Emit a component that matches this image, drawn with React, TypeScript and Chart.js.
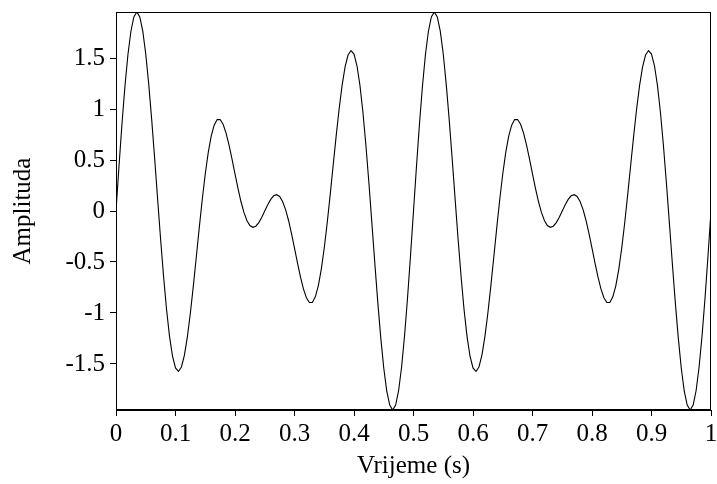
import React, { useEffect, useRef } from "react";
import { Chart, registerables } from "chart.js";

Chart.register(...registerables);

// sample interval of the waveform (seconds)
const sampleStep = 0.005;

// amplitude samples, t = 0 .. 1 s
const amplitude = [
  0, 0.436, 0.85, 1.22, 1.529, 1.76, 1.903, 1.951, 1.903, 1.763, 1.539, 1.244, 0.896, 0.512, 0.114, -0.279, -0.645, -0.968, -1.231, -1.424,
  -1.539, -1.573, -1.529, -1.412, -1.231, -1.0, -0.734, -0.448, -0.16, 0.115, 0.363, 0.572, 0.734, 0.842, 0.896, 0.897, 0.85, 0.763, 0.645, 0.508,
  0.363, 0.222, 0.093, -0.014, -0.093, -0.142, -0.16, -0.149, -0.114, -0.061, 0, 0.061, 0.114, 0.149, 0.16, 0.142, 0.093, 0.014, -0.093, -0.222,
  -0.363, -0.508, -0.645, -0.763, -0.85, -0.897, -0.896, -0.842, -0.734, -0.572, -0.363, -0.115, 0.16, 0.448, 0.734, 1.0, 1.231, 1.412, 1.529, 1.573,
  1.539, 1.424, 1.231, 0.968, 0.645, 0.279, -0.114, -0.512, -0.896, -1.244, -1.539, -1.763, -1.903, -1.951, -1.903, -1.76, -1.529, -1.22, -0.85, -0.436,
  0, 0.436, 0.85, 1.22, 1.529, 1.76, 1.903, 1.951, 1.903, 1.763, 1.539, 1.244, 0.896, 0.512, 0.114, -0.279, -0.645, -0.968, -1.231, -1.424,
  -1.539, -1.573, -1.529, -1.412, -1.231, -1.0, -0.734, -0.448, -0.16, 0.115, 0.363, 0.572, 0.734, 0.842, 0.896, 0.897, 0.85, 0.763, 0.645, 0.508,
  0.363, 0.222, 0.093, -0.014, -0.093, -0.142, -0.16, -0.149, -0.114, -0.061, 0, 0.061, 0.114, 0.149, 0.16, 0.142, 0.093, 0.014, -0.093, -0.222,
  -0.363, -0.508, -0.645, -0.763, -0.85, -0.897, -0.896, -0.842, -0.734, -0.572, -0.363, -0.115, 0.16, 0.448, 0.734, 1.0, 1.231, 1.412, 1.529, 1.573,
  1.539, 1.424, 1.231, 0.968, 0.645, 0.279, -0.114, -0.512, -0.896, -1.244, -1.539, -1.763, -1.903, -1.951, -1.903, -1.76, -1.529, -1.22, -0.85, -0.436,
  0,
];

const xTickValues = [0, 0.1, 0.2, 0.3, 0.4, 0.5, 0.6, 0.7, 0.8, 0.9, 1];
const xTickLabels = ["0", "0.1", "0.2", "0.3", "0.4", "0.5", "0.6", "0.7", "0.8", "0.9", "1"];
const yTickValues = [-1.5, -1, -0.5, 0, 0.5, 1, 1.5];
const yTickLabels = ["-1.5", "-1", "-0.5", "0", "0.5", "1", "1.5"];

const xMin = 0;
const xMax = 1;
const yMin = -1.951;
const yMax = 1.951;

const xTitle = "Vrijeme (s)";
const yTitle = "Amplituda";

const FONT_FAMILY = '"Liberation Serif", "Times New Roman", serif';

const boxPlugin = {
  id: "frameBox",
  afterDraw(chart: any) {
    const { ctx, chartArea } = chart;
    const l = Math.round(chartArea.left) + 0.5;
    const t = Math.round(chartArea.top) + 0.5;
    const r = Math.round(chartArea.right) - 0.5;
    const b = Math.round(chartArea.bottom) - 0.5;
    ctx.save();
    ctx.strokeStyle = "#000";
    ctx.lineWidth = 1;
    ctx.strokeRect(l, t, r - l, b - t);
    ctx.restore();
  },
};

export default function App() {
  const ref = useRef<HTMLCanvasElement | null>(null);

  useEffect(() => {
    if (!ref.current) return;
    const points = amplitude.map((v, i) => ({ x: i * sampleStep, y: v }));
    const tickFont = { family: FONT_FAMILY, size: 25 };
    const titleFont = { family: FONT_FAMILY, size: 25 };
    const chart = new Chart(ref.current, {
      type: "line",
      data: {
        datasets: [
          {
            data: points,
            borderColor: "#000",
            borderWidth: 1.1,
            pointRadius: 0,
            tension: 0,
            fill: false,
          },
        ],
      },
      options: {
        animation: false,
        responsive: false,
        maintainAspectRatio: false,
        layout: { padding: { top: 12, right: 6, left: 0, bottom: 0 } },
        plugins: {
          legend: { display: false },
          tooltip: { enabled: false },
        },
        scales: {
          x: {
            type: "linear",
            min: xMin,
            max: xMax,
            afterBuildTicks: (s: any) => {
              s.ticks = xTickValues.map((v) => ({ value: v }));
            },
            afterFit: (s: any) => {
              s.height = 74;
              s.paddingLeft = 0;
              s.paddingRight = 0;
            },
            ticks: {
              callback: (v: any) => xTickLabels[xTickValues.indexOf(Number(v))] ?? "",
              font: tickFont,
              color: "#000",
              padding: 3,
              maxRotation: 0,
              autoSkip: false,
            },
            grid: { drawOnChartArea: false, drawTicks: true, tickLength: 6, color: "#000", lineWidth: 1 },
            border: { display: true, color: "#000", width: 1 },
            title: { display: true, text: xTitle, font: titleFont, color: "#000", padding: { top: 0, bottom: 3 } },
          },
          y: {
            type: "linear",
            min: yMin,
            max: yMax,
            afterBuildTicks: (s: any) => {
              s.ticks = yTickValues.map((v) => ({ value: v }));
            },
            afterFit: (s: any) => {
              s.width = 116;
              s.paddingTop = 0;
              s.paddingBottom = 0;
            },
            ticks: {
              callback: (v: any) => yTickLabels[yTickValues.indexOf(Number(v))] ?? "",
              font: tickFont,
              color: "#000",
              padding: 5,
              autoSkip: false,
            },
            grid: { drawOnChartArea: false, drawTicks: true, tickLength: 6, color: "#000", lineWidth: 1 },
            border: { display: true, color: "#000", width: 1 },
            title: { display: true, text: yTitle, font: titleFont, color: "#000", padding: { top: 8, bottom: 0 } },
          },
        },
      },
      plugins: [boxPlugin],
    } as any);
    return () => chart.destroy();
  }, []);

  return (
    <div style={{ position: "fixed", left: 0, top: 0, width: 717, height: 484, background: "#fff" }}>
      <canvas ref={ref} width={717} height={484} style={{ display: "block", width: 717, height: 484 }} />
    </div>
  );
}
